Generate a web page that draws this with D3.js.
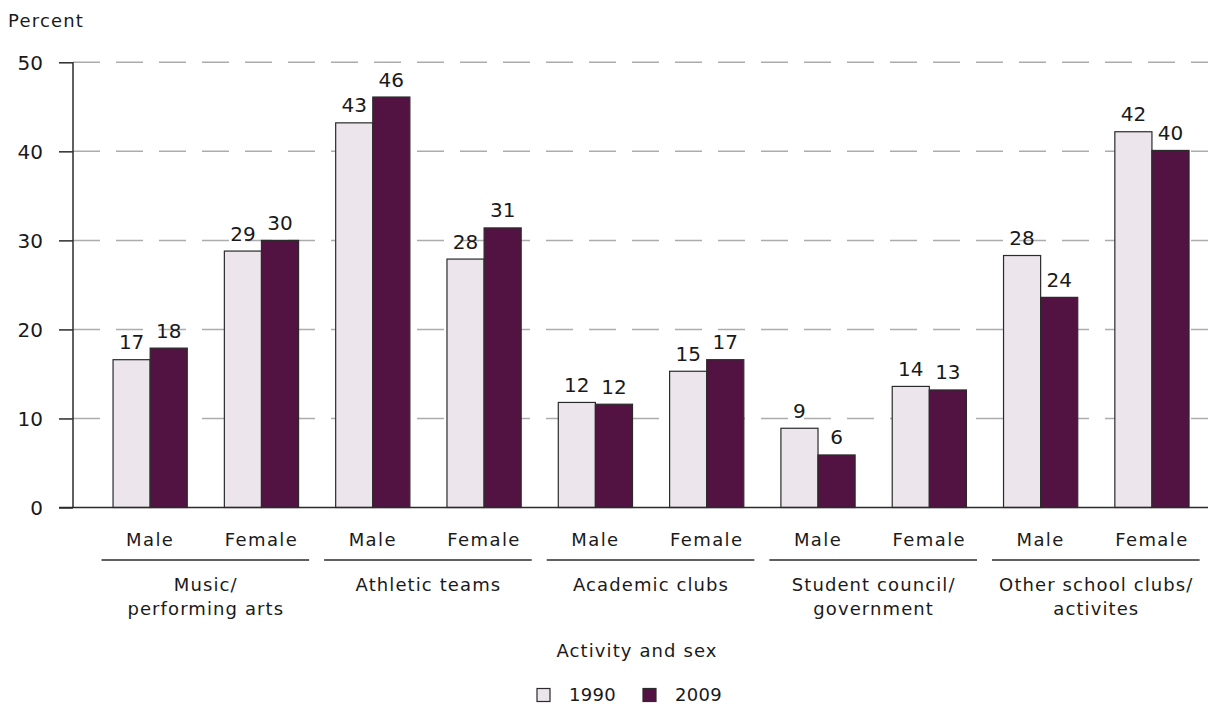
<!DOCTYPE html>
<html>
<head>
<meta charset="utf-8">
<script src="https://cdn.jsdelivr.net/npm/d3@7"></script>
<style>
  html, body { margin: 0; padding: 0; background: #ffffff; }
  svg { display: block; }
  text { font-family: "DejaVu Sans", sans-serif; fill: #1a1a1a; }
</style>
</head>
<body>
<svg id="chart" width="1214" height="706"></svg>
<script>
// ---- Data ----
const activities = [
  ["Music/", "performing arts"],
  ["Athletic teams"],
  ["Academic clubs"],
  ["Student council/", "government"],
  ["Other school clubs/", "activites"]
];
const sexes = ["Male", "Female"];
const years = ["1990", "2009"];
const values1990 = [16.6, 28.8, 43.2, 27.9, 11.8, 15.3, 8.9, 13.6, 28.3, 42.2];
const values2009 = [17.9, 30.0, 46.1, 31.4, 11.6, 16.6, 5.9, 13.2, 23.6, 40.1];
const yTicks = [0, 10, 20, 30, 40, 50];
const yTitle = "Percent";
const xTitle = "Activity and sex";
const colors = ["#ece5eb", "#521343"];

// ---- Build ----
const slots = [];
activities.forEach((a, i) => sexes.forEach((s, j) => slots.push({ key: i + "-" + s, act: i, sex: s })));
const seriesValues = [values1990, values2009];

const svg = d3.select("#chart");
const axisX = 73;
const plotRight = 1208;

const y = d3.scaleLinear().domain([0, 50]).range([507.5, 62.3]);
const x = d3.scaleBand().domain(slots.map(d => d.key)).range([94.5, 1207.6])
  .paddingInner(1 / 3).paddingOuter(1 / 6);
const x1 = d3.scaleBand().domain(years).range([0, x.bandwidth()]);

// gridlines
svg.append("g").selectAll("line").data(yTicks.filter(t => t > 0)).join("line")
  .attr("x1", axisX).attr("x2", plotRight)
  .attr("y1", d => y(d)).attr("y2", d => y(d))
  .attr("stroke", "#acacac").attr("stroke-width", 1.5)
  .attr("stroke-dasharray", "27,16");

// bars
const barG = svg.append("g");
slots.forEach((s, i) => {
  years.forEach((yr, k) => {
    const v = seriesValues[k][i];
    const bx = x(s.key) + x1(yr);
    barG.append("rect")
      .attr("x", bx).attr("y", y(v))
      .attr("width", x1.bandwidth()).attr("height", y(0) - y(v))
      .attr("fill", colors[k]).attr("stroke", "#2b2b2b").attr("stroke-width", 1.2);
    barG.append("text")
      .attr("x", bx + x1.bandwidth() / 2).attr("y", y(v) - 10.5)
      .attr("text-anchor", "middle").attr("font-size", 20)
      .text(Math.round(v));
  });
});

// y axis
const yAxis = d3.axisLeft(y).tickValues(yTicks).tickSize(14).tickPadding(16).tickFormat(d3.format("d"));
const yg = svg.append("g").attr("transform", `translate(${axisX},0)`).call(yAxis);
yg.select(".domain").remove();
yg.selectAll(".tick line").attr("stroke", "#2b2b2b").attr("stroke-width", 1.5);
yg.selectAll(".tick text").attr("font-size", 20).attr("font-family", "DejaVu Sans, sans-serif")
  .attr("fill", "#1a1a1a").attr("dy", "0.36em");
svg.append("line").attr("x1", axisX).attr("x2", axisX).attr("y1", y(50)).attr("y2", y(0))
  .attr("stroke", "#2b2b2b").attr("stroke-width", 1.5);
svg.append("line").attr("x1", axisX - 14).attr("x2", plotRight).attr("y1", y(0)).attr("y2", y(0))
  .attr("stroke", "#2b2b2b").attr("stroke-width", 1.5);

// y title
svg.append("text").attr("x", 8).attr("y", 27).attr("font-size", 18).attr("letter-spacing", 1.2).text(yTitle);

// sex labels
svg.append("g").selectAll("text").data(slots).join("text")
  .attr("x", d => x(d.key) + x.bandwidth() / 2).attr("y", 546)
  .attr("text-anchor", "middle").attr("font-size", 18).attr("letter-spacing", 1.4)
  .text(d => d.sex);

// group underline + labels
activities.forEach((a, i) => {
  const k0 = i + "-" + sexes[0], k1 = i + "-" + sexes[1];
  const left = x(k0) - x.step() * x.paddingInner() / 2;
  const right = x(k1) + x.bandwidth() + x.step() * x.paddingInner() / 2;
  svg.append("line").attr("x1", left + 7).attr("x2", right - 8).attr("y1", 560).attr("y2", 560)
    .attr("stroke", "#2b2b2b").attr("stroke-width", 1.5);
  const cx = (left + right) / 2;
  a.forEach((line, li) => {
    svg.append("text").attr("x", cx).attr("y", 591 + li * 23.5)
      .attr("text-anchor", "middle").attr("font-size", 18).attr("letter-spacing", 1.1)
      .text(line);
  });
});

// x title
svg.append("text").attr("x", 637).attr("y", 657).attr("text-anchor", "middle")
  .attr("font-size", 18).attr("letter-spacing", 1.1).text(xTitle);

// legend
const legendPos = [537, 643];
years.forEach((yr, k) => {
  svg.append("rect").attr("x", legendPos[k]).attr("y", 688.5).attr("width", 13).attr("height", 13)
    .attr("fill", colors[k]).attr("stroke", "#2b2b2b").attr("stroke-width", 1.2);
  svg.append("text").attr("x", legendPos[k] + 32).attr("y", 701).attr("font-size", 18)
    .attr("letter-spacing", 0.3).text(yr);
});
</script>
</body>
</html>
